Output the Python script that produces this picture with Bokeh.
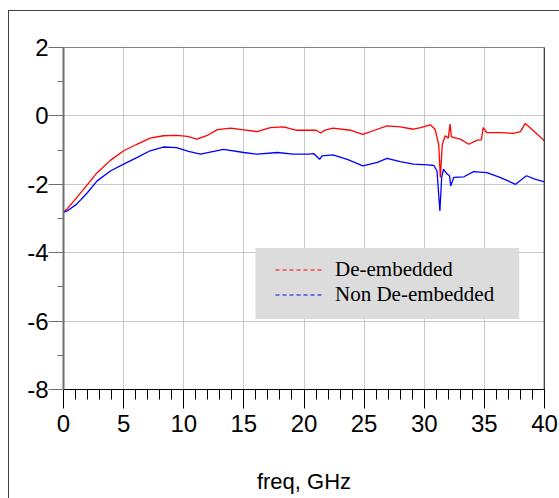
from bokeh.plotting import figure
from bokeh.models import (Range1d, FixedTicker, Legend, LegendItem, BoxAnnotation, Span)
from bokeh.embed import file_html
from bokeh.resources import INLINE

# --- data ---
freq_de = [0, 0.3, 1.1, 2.0, 2.8, 3.9, 5.0, 6.1, 7.2, 8.3, 9.4, 10.3, 11.1, 11.9, 12.8, 13.9,
           15.0, 16.1, 17.2, 18.3, 19.4, 20.4, 21.0, 21.4, 21.7, 22.4, 23.9, 24.9, 26.1, 26.9,
           28.0, 29.1, 29.7, 30.5, 30.9, 31.2, 31.34, 31.5, 31.75, 32.0, 32.15, 32.25, 32.4,
           33.0, 33.7, 34.4, 34.75, 34.9, 35.2, 36.3, 37.4, 38.0, 38.4, 39.1, 40]
s21_de = [-2.80, -2.72, -2.39, -2.00, -1.66, -1.30, -1.02, -0.83, -0.65, -0.58, -0.57, -0.60,
          -0.68, -0.58, -0.40, -0.36, -0.41, -0.46, -0.34, -0.32, -0.42, -0.42, -0.42, -0.50,
          -0.42, -0.36, -0.42, -0.54, -0.39, -0.29, -0.32, -0.39, -0.34, -0.26, -0.39, -0.83,
          -1.80, -0.83, -0.58, -0.65, -0.24, -0.60, -0.63, -0.68, -0.83, -0.71, -0.70, -0.34,
          -0.49, -0.49, -0.51, -0.46, -0.22, -0.44, -0.73]

freq_non = [0, 0.3, 1.1, 2.0, 2.8, 3.9, 5.0, 6.1, 7.2, 8.3, 9.4, 10.4, 11.4, 12.5, 13.3, 15.0,
            16.1, 17.8, 19.1, 20.4, 20.8, 21.3, 21.5, 22.4, 23.6, 24.9, 26.1, 26.9, 28.0, 29.1,
            30.3, 30.8, 31.06, 31.3, 31.45, 31.6, 31.9, 32.1, 32.2, 32.45, 33.3, 34.1, 35.2,
            36.3, 37.6, 38.5, 39.2, 40]
s21_non = [-2.82, -2.78, -2.58, -2.24, -1.90, -1.61, -1.41, -1.22, -1.02, -0.91, -0.93, -1.04,
           -1.12, -1.04, -0.98, -1.07, -1.12, -1.07, -1.12, -1.12, -1.10, -1.27, -1.17, -1.14,
           -1.27, -1.46, -1.36, -1.24, -1.34, -1.41, -1.43, -1.45, -1.61, -2.78, -1.80, -1.56,
           -1.70, -1.75, -2.05, -1.80, -1.78, -1.63, -1.66, -1.80, -2.00, -1.75, -1.85, -1.93]

x_ticks = [0, 5, 10, 15, 20, 25, 30, 35, 40]
x_tick_labels = ["0", "5", "10", "15", "20", "25", "30", "35", "40"]
y_ticks = [-8, -6, -4, -2, 0, 2]
y_tick_labels = ["-8", "-6", "-4", "-2", "0", "2"]
series_names = ["De-embedded", "Non De-embedded"]

p = figure(width=550, height=487, output_backend="svg", toolbar_location=None,
           x_range=Range1d(0, 40), y_range=Range1d(-8, 2),
           min_border_left=54, min_border_right=15, min_border_top=36, min_border_bottom=109)
p.margin = (11, 0, 0, 9)
# outer frame of the chart panel: only its left and top edges fall inside the window
p.styles = {"box-shadow": "-1px 0px 0px 0px #404040, 0px -1px 0px 0px #404040, -1px -1px 0px 0px #404040"}
p.background_fill_color = "white"
p.border_fill_color = "white"
p.outline_line_color = "#808080"
p.outline_line_width = 1

font = "Liberation Sans"

# x axis
xa = p.xaxis[0]
xa.ticker = FixedTicker(ticks=x_ticks, minor_ticks=list(range(0, 41)))
xa.major_label_overrides = dict(zip(x_ticks, x_tick_labels))
xa.major_tick_out = 19
xa.major_tick_in = 0
xa.minor_tick_out = 10
xa.minor_tick_in = 0
xa.axis_line_color = "black"
xa.major_tick_line_color = "black"
xa.minor_tick_line_color = "black"
xa.major_label_text_font = font
xa.major_label_text_font_size = "24px"
xa.major_label_text_color = "black"
xa.major_label_standoff = 6
xa.axis_label = "freq, GHz"
xa.axis_label_text_font = font
xa.axis_label_text_font_size = "22px"
xa.axis_label_text_font_style = "normal"
xa.axis_label_text_color = "black"
xa.axis_label_standoff = 34

# y axis
ya = p.yaxis[0]
ya.ticker = FixedTicker(ticks=y_ticks, minor_ticks=list(range(-8, 3)))
ya.major_label_overrides = dict(zip(y_ticks, y_tick_labels))
ya.major_tick_out = 15
ya.major_tick_in = 0
ya.minor_tick_out = 6
ya.minor_tick_in = 0
ya.axis_line_color = "#707070"
ya.axis_line_width = 2
ya.major_tick_line_color = "#707070"
ya.minor_tick_line_color = "#707070"
ya.major_label_text_font = font
ya.major_label_text_font_size = "24px"
ya.major_label_text_color = "black"
ya.major_label_standoff = 0

p.xgrid.grid_line_color = "#c8c8c8"
p.ygrid.grid_line_color = "#c8c8c8"
p.xgrid.grid_line_width = 1
p.ygrid.grid_line_width = 1

p.add_layout(Span(location=40, dimension="height", line_color="black", line_width=1.5))

p.line(freq_de, s21_de, line_color="#ff0000", line_width=1.3)
p.line(freq_non, s21_non, line_color="#0000ff", line_width=1.3)

# legend
box = BoxAnnotation(left=15.96, right=37.9, top=-3.86, bottom=-5.94,
                    fill_color="#dcdcdc", fill_alpha=1.0, line_color=None)
p.add_layout(box)

nan = float("nan")
l1 = p.line([nan], [nan], line_color="#ff0000", line_dash="4 3", line_width=1)
l2 = p.line([nan], [nan], line_color="#0000ff", line_dash="4 3", line_width=1)
legend = Legend(items=[LegendItem(label=series_names[0], renderers=[l1]),
                       LegendItem(label=series_names[1], renderers=[l2])],
                location=(212, 82), orientation="vertical",
                background_fill_alpha=0, border_line_color=None,
                padding=0, margin=0, spacing=0,
                glyph_width=47, glyph_height=25, label_height=25, label_standoff=13,
                label_text_font="Liberation Serif", label_text_font_size="21px",
                label_text_color="black")
p.add_layout(legend)

open("out.html", "w").write(file_html(p, INLINE))
